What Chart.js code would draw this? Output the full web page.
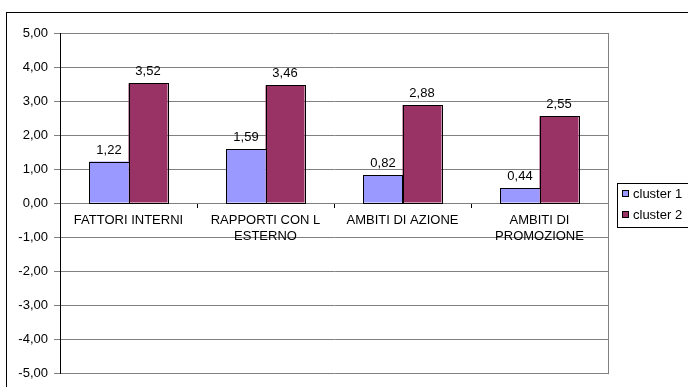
<!DOCTYPE html>
<html><head><meta charset="utf-8">
<script src="https://cdn.jsdelivr.net/npm/chart.js@4/dist/chart.umd.min.js"></script>
<style>html,body{margin:0;padding:0;background:#fff;}#w{width:688px;height:387px;position:relative;}</style>
</head><body><div id="w"><canvas id="c" width="688" height="387"></canvas></div>
<script>
const categories = [["FATTORI INTERNI"], ["RAPPORTI CON L", "ESTERNO"], ["AMBITI DI AZIONE"], ["AMBITI DI", "PROMOZIONE"]];
const seriesNames = ["cluster 1", "cluster 2"];
const cluster1 = [1.22, 1.59, 0.82, 0.44];
const cluster2 = [3.52, 3.46, 2.88, 2.55];
const yTicks = [-5, -4, -3, -2, -1, 0, 1, 2, 3, 4, 5];
const colors = ["#9999FF", "#993366"];
const fmt = v => v.toFixed(2).replace('.', ',');

const FONT = "'Liberation Sans', Arial, sans-serif";

const frame = {
  id: 'frame',
  beforeDraw(chart) {
    const ctx = chart.ctx;
    ctx.save();
    ctx.fillStyle = '#fff';
    ctx.fillRect(0, 0, chart.width, chart.height);
    ctx.strokeStyle = '#000';
    ctx.lineWidth = 1;
    ctx.strokeRect(6.5, 12.5, 720, 420);
    ctx.restore();
  },
  afterDatasetsDraw(chart) {
    const ctx = chart.ctx, a = chart.chartArea;
    ctx.save();
    ctx.strokeStyle = '#808080';
    ctx.lineWidth = 1;
    ctx.beginPath();
    ctx.moveTo(Math.round(a.right) + 0.5, a.top);
    ctx.lineTo(Math.round(a.right) + 0.5, a.bottom + 1);
    ctx.stroke();
    // crisp bar outlines
    ctx.strokeStyle = '#000';
    chart.data.datasets.forEach((ds, i) => {
      chart.getDatasetMeta(i).data.forEach(bar => {
        const l = Math.round(bar.x - bar.width / 2), r = Math.round(bar.x + bar.width / 2);
        const t = Math.round(bar.y), b = Math.round(bar.base);
        ctx.strokeRect(l + 0.5, t + 0.5, r - l, b - t);
      });
    });
    ctx.restore();
  },
  afterDraw(chart) {
    const ctx = chart.ctx;
    ctx.save();
    // data labels
    ctx.font = "13px " + FONT;
    ctx.fillStyle = '#000';
    ctx.textAlign = 'center';
    ctx.textBaseline = 'bottom';
    chart.data.datasets.forEach((ds, i) => {
      chart.getDatasetMeta(i).data.forEach((bar, j) => {
        ctx.fillText(fmt(ds.data[j]), bar.x, bar.y - 5);
      });
    });
    // legend
    const lx = 617, ly = 183;
    ctx.strokeStyle = '#000';
    ctx.lineWidth = 1;
    ctx.strokeRect(lx + 0.5, ly + 0.5, 80, 44);
    ctx.textAlign = 'left';
    ctx.textBaseline = 'middle';
    chart.data.datasets.forEach((ds, i) => {
      const y = ly + 11 + i * 21;
      ctx.fillStyle = ds.backgroundColor;
      ctx.fillRect(lx + 5, y - 4, 7, 7);
      ctx.strokeRect(lx + 5.5, y - 3.5, 6, 6);
      ctx.fillStyle = '#000';
      ctx.fillText(ds.label, lx + 16, y);
    });
    ctx.restore();
  }
};

new Chart(document.getElementById('c'), {
  type: 'bar',
  data: {
    labels: categories,
    datasets: [
      { label: seriesNames[0], data: cluster1, backgroundColor: colors[0], borderWidth: 0 },
      { label: seriesNames[1], data: cluster2, backgroundColor: colors[1], borderWidth: 0 }
    ]
  },
  options: {
    responsive: false,
    animation: false,
    devicePixelRatio: 1,
    layout: { padding: { left: 0, top: 33, right: 80, bottom: 9 } },
    categoryPercentage: 0.57,
    barPercentage: 1.0,
    plugins: { legend: { display: false }, tooltip: { enabled: false } },
    scales: {
      x: {
        position: { y: 0 },
        grid: { drawOnChartArea: false, drawTicks: true, tickLength: 4, color: '#000', offset: true },
        border: { display: true, color: '#808080' },
        ticks: { color: '#000', font: { family: FONT, size: 13 }, padding: 6, maxRotation: 0, autoSkip: false }
      },
      y: {
        min: -5, max: 5,
        afterFit(s) { s.width = 60; },
        afterBuildTicks(s) { s.ticks = yTicks.map(v => ({ value: v })); },
        grid: { color: '#808080', tickLength: 6 },
        border: { display: true, color: '#000' },
        ticks: { color: '#000', font: { family: FONT, size: 13 }, padding: 6, callback: v => fmt(v) }
      }
    }
  },
  plugins: [frame]
});
</script></body></html>
